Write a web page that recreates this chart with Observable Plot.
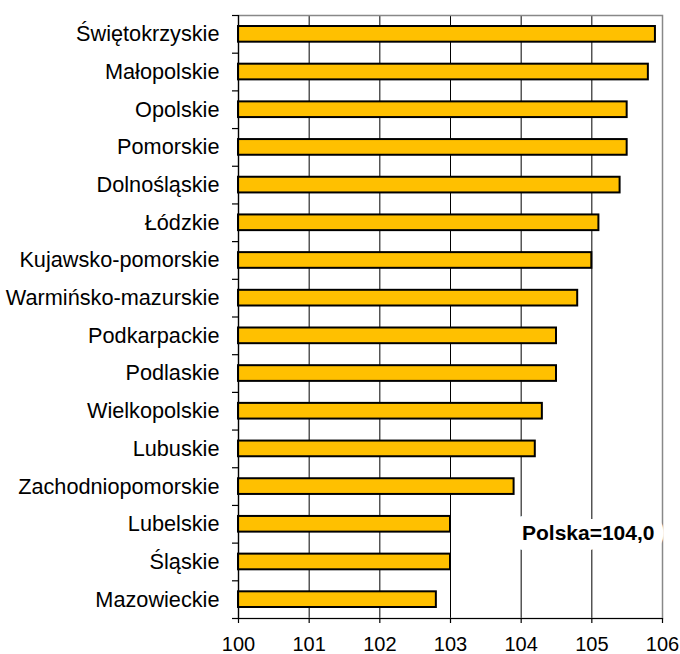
<!DOCTYPE html>
<html><head><meta charset="utf-8">
<script src="https://cdn.jsdelivr.net/npm/d3@7"></script>
<script src="https://cdn.jsdelivr.net/npm/@observablehq/plot@0.6"></script>
<style>body{margin:0;background:#fff}</style>
</head><body><div id="chart"></div>
<script>
const regions = ["Świętokrzyskie","Małopolskie","Opolskie","Pomorskie","Dolnośląskie","Łódzkie","Kujawsko-pomorskie","Warmińsko-mazurskie","Podkarpackie","Podlaskie","Wielkopolskie","Lubuskie","Zachodniopomorskie","Lubelskie","Śląskie","Mazowieckie"];
const values = [105.9,105.8,105.5,105.5,105.4,105.1,105.0,104.8,104.5,104.5,104.3,104.2,103.9,103.0,103.0,102.8];
const xTicks = [100,101,102,103,104,105,106];
const annotation = [{text: "Polska=104,0", region: "Lubelskie"}];

const data = regions.map((r, i) => ({region: r, value: values[i]}));
const W = 680, H = 654, mTop = 15, mBottom = 36;
const bw = (H - mTop - mBottom) / regions.length;

const chart = Plot.plot({
  width: W, height: H,
  marginLeft: 238, marginRight: 18, marginTop: mTop, marginBottom: mBottom,
  style: {fontFamily: "'Liberation Sans', Arial, sans-serif", background: "#fff", color: "#000", overflow: "visible"},
  x: {domain: [xTicks[0], xTicks[xTicks.length - 1]], label: null},
  y: {domain: regions, padding: 0, round: false, label: null},
  marks: [
    Plot.ruleX(xTicks.slice(1, -1), {stroke: "#000", strokeWidth: 1}),
    Plot.frame({stroke: "#888", strokeWidth: 1.5}),
    Plot.barX(data, {x1: () => xTicks[0], x2: "value", y: "region", fill: "#FFC000", stroke: "#000", strokeWidth: 2, insetTop: 11, insetBottom: 11}),
    Plot.ruleX([xTicks[0]], {stroke: "#000", strokeWidth: 1.2}),
    Plot.ruleY([regions[regions.length - 1]], {dy: bw / 2, stroke: "#000", strokeWidth: 1.2}),
    Plot.axisY({tickSize: 6, tickFormat: () => "", dy: -bw / 2, strokeWidth: 1.2}),
    Plot.axisY({ticks: [regions[regions.length - 1]], tickSize: 6, tickFormat: () => "", dy: bw / 2, strokeWidth: 1.2}),
    Plot.axisY({tickSize: 0, tickPadding: 19, fontSize: 21.7}),
    Plot.axisX({ticks: xTicks, tickFormat: d => String(d), tickSize: 5, tickPadding: 13, fontSize: 20, strokeWidth: 1.2}),
    Plot.text(annotation, {x: () => xTicks[xTicks.length - 1], y: "region", text: "text", textAnchor: "end", dx: -8, dy: 9, fontSize: 21, fontWeight: "bold", fill: "#000", stroke: "#fff", strokeWidth: 20})
  ]
});
document.getElementById("chart").appendChild(chart);
</script>
</body></html>
